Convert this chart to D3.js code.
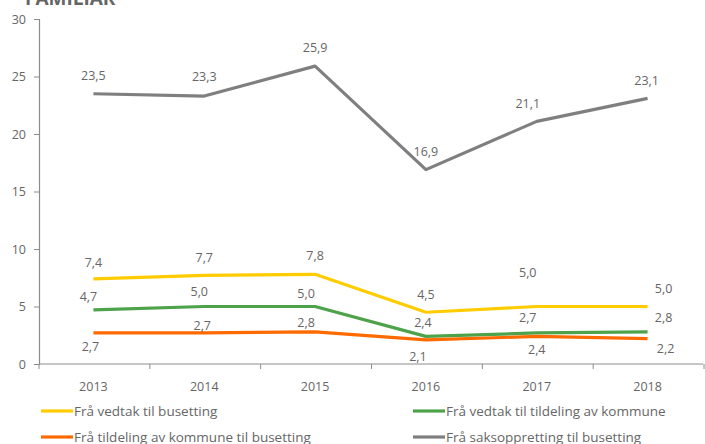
<!DOCTYPE html>
<html>
<head>
<meta charset="utf-8">
<script src="https://cdn.jsdelivr.net/npm/d3@7"></script>
<style>
  body { margin: 0; background: #fff; }
  svg { display: block; font-family: "Open Sans", "Noto Sans", sans-serif; }
</style>
</head>
<body>
<svg id="chart" width="705" height="444"></svg>
<script>
var years = ['2013', '2014', '2015', '2016', '2017', '2018'];
var yTicks = [0, 5, 10, 15, 20, 25, 30];

var vedtakBusetting = [7.4, 7.7, 7.8, 4.5, 5.0, 5.0];
var vedtakTildeling = [4.7, 5.0, 5.0, 2.4, 2.7, 2.8];
var tildelingBusetting = [2.7, 2.7, 2.8, 2.1, 2.4, 2.2];
var saksopprettingBusetting = [23.5, 23.3, 25.9, 16.9, 21.1, 23.1];

var seriesNames = [
  'Frå vedtak til busetting',
  'Frå vedtak til tildeling av kommune',
  'Frå tildeling av kommune til busetting',
  'Frå saksoppretting til busetting'
];

// label placement (pixels relative to point), kept apart from values
var labelOffsets = [
  [[0, -16], [0, -18], [0, -19], [0, -18], [-9, -34], [16, -18]],
  [[-5, -13], [-5, -15], [-9, -13], [-3, -14], [-9, -15], [16, -14]],
  [[-3, 14], [-2, -7], [-9, -9], [-8, 17], [0, 13], [18, 10]],
  [[0, -18], [0, -19], [0, -19], [0, -18], [-9, -18], [-1, -18]]
];

var colors = ['#ffcc00', '#4ea24a', '#ff6a00', '#7f7f7f'];

var series = [vedtakBusetting, vedtakTildeling, tildelingBusetting, saksopprettingBusetting];

var svg = d3.select('#chart');
var margin = { left: 38, right: 2, top: 19, bottom: 80 };
var width = 705, height = 444;

var x = d3.scaleBand()
  .domain(years)
  .range([margin.left, width - margin.right]);

var y = d3.scaleLinear()
  .domain([0, 30])
  .range([height - margin.bottom, margin.top]);

var textColor = '#666666';
var axisColor = '#8c8c8c';

// title (partly cut off at the top)
svg.append('text')
  .attr('x', 25)
  .attr('y', 5)
  .attr('font-size', '19px')
  .attr('font-weight', 'bold')
  .attr('fill', textColor)
  .text('FAMILIAR');

// y axis
var yAxis = svg.append('g')
  .attr('transform', 'translate(' + (margin.left + 1) + ',0)')
  .call(d3.axisLeft(y).tickValues(yTicks).tickSize(5).tickPadding(8));
yAxis.select('.domain').attr('stroke', axisColor).attr('stroke-width', 1.2);
yAxis.selectAll('.tick line').attr('stroke', axisColor);
yAxis.selectAll('.tick text')
  .attr('fill', textColor)
  .attr('font-size', '12.5px')
  .attr('font-family', '"Open Sans", sans-serif');

// x axis
var xAxisG = svg.append('g')
  .attr('transform', 'translate(0,' + y(0) + ')');
xAxisG.append('line')
  .attr('x1', margin.left + 1)
  .attr('x2', width - margin.right)
  .attr('stroke', axisColor)
  .attr('stroke-width', 1.2);
var boundaries = years.map(function (d) { return x(d); }).concat([x(years[years.length - 1]) + x.bandwidth()]);
xAxisG.selectAll('line.tick')
  .data(boundaries)
  .enter()
  .append('line')
  .attr('class', 'tick')
  .attr('x1', function (d) { return d + 1; })
  .attr('x2', function (d) { return d + 1; })
  .attr('y1', 0)
  .attr('y2', 5)
  .attr('stroke', axisColor);
xAxisG.selectAll('text')
  .data(years)
  .enter()
  .append('text')
  .attr('x', function (d) { return x(d) + x.bandwidth() / 2; })
  .attr('y', 27)
  .attr('text-anchor', 'middle')
  .attr('font-size', '12.5px')
  .attr('fill', textColor)
  .text(function (d) { return d; });

var line = d3.line()
  .x(function (d, i) { return x(years[i]) + x.bandwidth() / 2; })
  .y(function (d) { return y(d); });

var drawOrder = [3, 0, 1, 2];
drawOrder.forEach(function (s) {
  svg.append('path')
    .datum(series[s])
    .attr('d', line)
    .attr('fill', 'none')
    .attr('stroke', colors[s])
    .attr('stroke-width', 3.2)
    .attr('stroke-linejoin', 'round');
});

drawOrder.forEach(function (s) {
  svg.append('g').selectAll('text')
    .data(series[s])
    .enter()
    .append('text')
    .attr('x', function (d, i) { return x(years[i]) + x.bandwidth() / 2 + labelOffsets[s][i][0]; })
    .attr('y', function (d, i) { return y(d) + labelOffsets[s][i][1]; })
    .attr('dy', '0.35em')
    .attr('text-anchor', 'middle')
    .attr('font-size', '12.5px')
    .attr('fill', textColor)
    .text(function (d) { return d3.format('.1f')(d).replace('.', ','); });
});

// legend
var legendPos = [[41, 411], [413, 411], [41, 437], [413, 437]];
var legend = svg.append('g');
seriesNames.forEach(function (name, s) {
  var p = legendPos[s];
  legend.append('line')
    .attr('x1', p[0])
    .attr('x2', p[0] + 32)
    .attr('y1', p[1])
    .attr('y2', p[1])
    .attr('stroke', colors[s])
    .attr('stroke-width', 3.2);
  legend.append('text')
    .attr('x', p[0] + 33)
    .attr('y', p[1])
    .attr('dy', '0.35em')
    .attr('font-size', '13.5px')
    .attr('fill', textColor)
    .text(name);
});
</script>
</body>
</html>
